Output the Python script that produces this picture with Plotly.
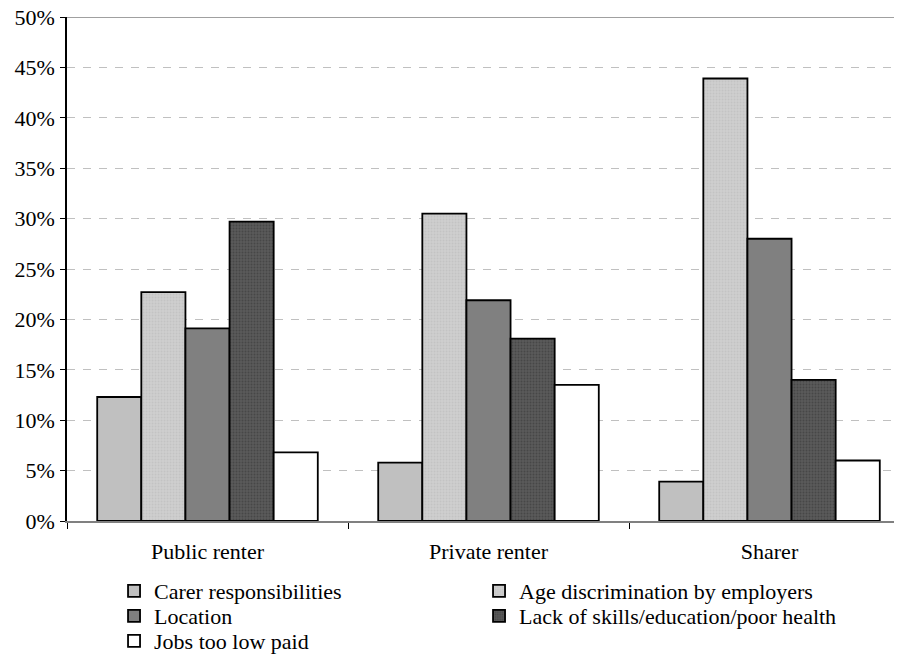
import plotly.graph_objects as go

categories = ["Public renter", "Private renter", "Sharer"]
series_names = [
    "Carer responsibilities",
    "Age discrimination by employers",
    "Location",
    "Lack of skills/education/poor health",
    "Jobs too low paid",
]
carer = [0.123, 0.058, 0.039]
age_disc = [0.227, 0.305, 0.439]
location = [0.191, 0.219, 0.280]
lack_skills = [0.297, 0.181, 0.140]
low_paid = [0.068, 0.135, 0.060]
y_ticks = [0.0, 0.05, 0.10, 0.15, 0.20, 0.25, 0.30, 0.35, 0.40, 0.45, 0.50]

values = [carer, age_disc, location, lack_skills, low_paid]
legend_rows = ["legend", "legend", "legend2", "legend2", "legend3"]
styles = [
    dict(color="#c0c0c0"),
    dict(color="#cbcbcb", pattern=dict(shape=".", fgcolor="#b8b8b8", bgcolor="#cecece", size=3, solidity=0.3)),
    dict(color="#808080"),
    dict(color="#4a4a4a", pattern=dict(shape=".", fgcolor="#333333", bgcolor="#5a5a5a", size=3, solidity=0.35)),
    dict(color="#ffffff"),
]

FONT = "Liberation Serif, Times New Roman, serif"
FS = 22

fig = go.Figure()
for name, vals, st, lg in zip(series_names, values, styles, legend_rows):
    marker = dict(color=st["color"], line=dict(color="#000000", width=1.8))
    if "pattern" in st:
        marker["pattern"] = st["pattern"]
    fig.add_trace(go.Bar(name=name, x=categories, y=vals, marker=marker, legend=lg))

# plot area in figure space (page adds an 8px offset when shown)
PLOT_TOP, PLOT_BOTTOM = 9, 513
PH = PLOT_BOTTOM - PLOT_TOP

legend_common = dict(
    orientation="h",
    xanchor="left",
    yanchor="middle",
    entrywidth=320,
    entrywidthmode="pixels",
    font=dict(family=FONT, size=FS),
    traceorder="normal",
    itemwidth=30,
    bgcolor="rgba(0,0,0,0)",
    borderwidth=0,
)
x_leg = 0.0558
fig.update_layout(
    width=902,
    height=655,
    margin=dict(l=59, r=0, t=PLOT_TOP, b=655 - PLOT_BOTTOM),
    paper_bgcolor="white",
    plot_bgcolor="white",
    font=dict(family=FONT, size=FS, color="#000000"),
    barmode="group",
    bargap=0.215,
    bargroupgap=0,
    showlegend=True,
    legend=dict(legend_common, x=x_leg, y=(PLOT_BOTTOM - 583) / PH),
    legend2=dict(legend_common, x=x_leg, y=(PLOT_BOTTOM - 608) / PH),
    legend3=dict(legend_common, x=x_leg, y=(PLOT_BOTTOM - 633) / PH),
    xaxis=dict(
        type="category",
        range=[-0.5, 2.5],
        automargin=False,
        showline=True,
        linecolor="#808080",
        linewidth=2,
        ticks="outside",
        tickson="boundaries",
        ticklen=6,
        tickcolor="#000000",
        ticklabelstandoff=10,
        showgrid=False,
        tickfont=dict(family=FONT, size=FS),
    ),
    yaxis=dict(
        range=[0, 0.5],
        automargin=False,
        tickvals=y_ticks,
        tickformat=".0%",
        ticklabeloverflow="allow",
        showline=True,
        linecolor="#000000",
        linewidth=1.5,
        ticks="outside",
        ticklen=5,
        tickcolor="#000000",
        ticklabelstandoff=1,
        showgrid=True,
        gridcolor="#c0c0c0",
        griddash="8px,8px",
        gridwidth=1,
        zeroline=False,
        tickfont=dict(family=FONT, size=FS),
    ),
    shapes=[
        dict(type="line", xref="paper", yref="y", x0=0, x1=1, y0=0.5, y1=0.5,
             line=dict(color="#808080", width=1.5)),
    ],
)

fig.write_html("out.html")
